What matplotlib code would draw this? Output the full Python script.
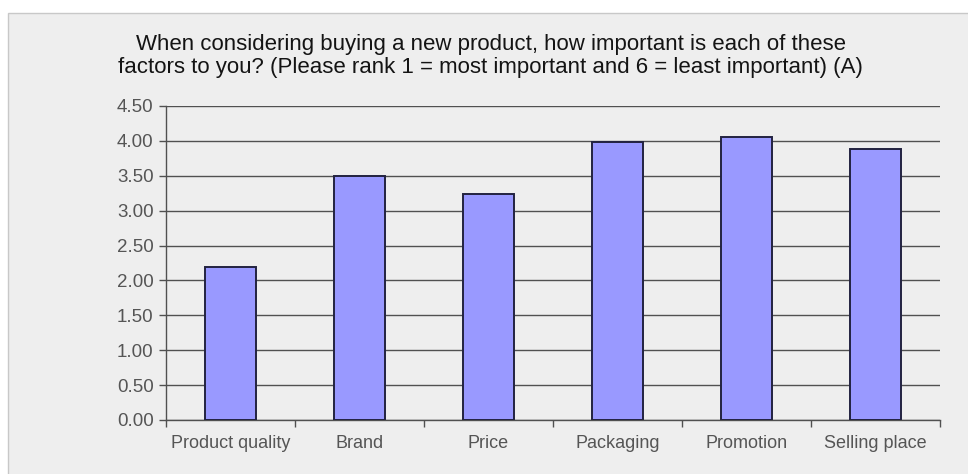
import matplotlib
matplotlib.use('Agg')
import matplotlib.pyplot as plt
from matplotlib.patches import Rectangle
import numpy as np

# mean rank per factor (1 = most important, 6 = least important)
factors = ['Product quality', 'Brand', 'Price', 'Packaging', 'Promotion', 'Selling place']
mean_rank = [2.19, 3.50, 3.24, 3.98, 4.05, 3.89]
yticks = [0.0, 0.5, 1.0, 1.5, 2.0, 2.5, 3.0, 3.5, 4.0, 4.5]

title = ('When considering buying a new product, how important is each of these\n'
         'factors to you? (Please rank 1 = most important and 6 = least important) (A)')

plt.rcParams['font.family'] = ['Liberation Sans', 'DejaVu Sans']

fig = plt.figure(figsize=(9.68, 4.74), dpi=100)
fig.patch.set_facecolor('white')

# grey chart panel with a thin border, kept behind the axes
panel = Rectangle((8 / 968, -0.01), 1.0, (474 - 13) / 474 + 0.01,
                  transform=fig.transFigure, facecolor='#eeeeee',
                  edgecolor='#c8c8c8', linewidth=1.0, zorder=-10)
fig.add_artist(panel)

ax = fig.add_axes([166 / 968, 1 - 420 / 474, (940 - 166) / 968, (420 - 106) / 474])
ax.set_zorder(5)
ax.set_facecolor('none')

x = np.arange(len(factors))
ax.bar(x, mean_rank, width=0.4, color='#9999ff', edgecolor='#222240',
       linewidth=1.4, zorder=3)

ax.set_xlim(-0.5, len(factors) - 0.5)
ax.set_ylim(0, 4.5)
ax.set_yticks(yticks)
ax.set_yticklabels(['%.2f' % v for v in yticks])
ax.yaxis.grid(True, color='#505050', linewidth=1.0, zorder=1)
ax.set_axisbelow(True)

# category labels at bar centres, tick marks on the boundaries
ax.set_xticks(x)
ax.set_xticklabels(factors)
ax.set_xticks(np.arange(len(factors) + 1) - 0.5, minor=True)
ax.tick_params(axis='x', which='major', length=0, pad=11,
               labelsize=13, labelcolor='#555555')
ax.tick_params(axis='x', which='minor', length=5, width=1.0, color='#505050',
               direction='out')
ax.tick_params(axis='y', length=5, width=1.0, color='#505050', pad=4,
               labelsize=13.5, labelcolor='#555555')

for side in ['top', 'right']:
    ax.spines[side].set_visible(False)
for side in ['left', 'bottom']:
    ax.spines[side].set_color('#505050')
    ax.spines[side].set_linewidth(1.0)

fig.text(0.507, 1 - 56 / 474, title, ha='center', va='center', fontsize=16,
         color='#141414', linespacing=1.12)

fig.savefig('out.png', dpi=100, facecolor=fig.get_facecolor())
